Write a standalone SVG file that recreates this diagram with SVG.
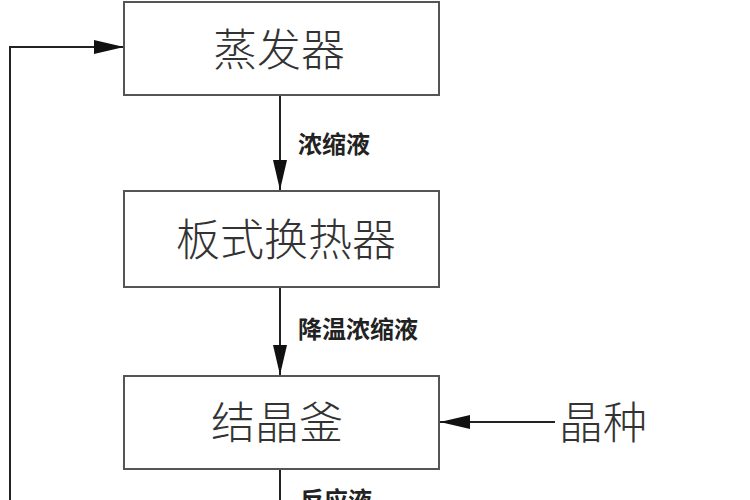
<svg xmlns="http://www.w3.org/2000/svg" width="750" height="500" viewBox="0 0 750 500">
<defs>
<marker id="ar" markerWidth="30" markerHeight="14" refX="30" refY="7" orient="auto" markerUnits="userSpaceOnUse"><path d="M0,0 L30,7 L0,14 Z" fill="#111"/></marker>
<style>
.box{fill:#fff;stroke:#555;stroke-width:2}
.bt{font-family:"Noto Sans CJK SC",sans-serif;font-size:44px;font-weight:300;fill:#333;text-anchor:middle}
.lb{font-family:"Noto Sans CJK SC",sans-serif;font-size:24px;font-weight:bold;fill:#222}
.ln{stroke:#222;stroke-width:2;fill:none}
</style>
</defs>
<rect width="750" height="500" fill="#fff"/>
<g id="connectors">
<path class="ln" d="M10,500 L10,47 L124,47" marker-end="url(#ar)"/>
<path class="ln" d="M280,95 L280,190" marker-end="url(#ar)"/>
<path class="ln" d="M280,288 L280,375" marker-end="url(#ar)"/>
<path class="ln" d="M555,422 L440,422" marker-end="url(#ar)"/>
<path class="ln" d="M280,469 L280,500"/>
<text class="lb" x="298" y="153">浓缩液</text>
<text class="lb" x="298" y="338">降温浓缩液</text>
<text class="lb" x="300" y="509">反应液</text>
</g>
<g id="evaporator"><rect class="box" x="124" y="2" width="315" height="93"/><text class="bt" x="279" y="66">蒸发器</text></g>
<g id="exchanger"><rect class="box" x="124" y="191" width="315" height="96"/><text class="bt" x="286" y="256">板式换热器</text></g>
<g id="crystallizer"><rect class="box" x="124" y="376" width="315" height="93"/><text class="bt" x="277" y="439">结晶釜</text></g>
<g id="seed"><text class="bt" x="603" y="439">晶种</text></g>
</svg>
